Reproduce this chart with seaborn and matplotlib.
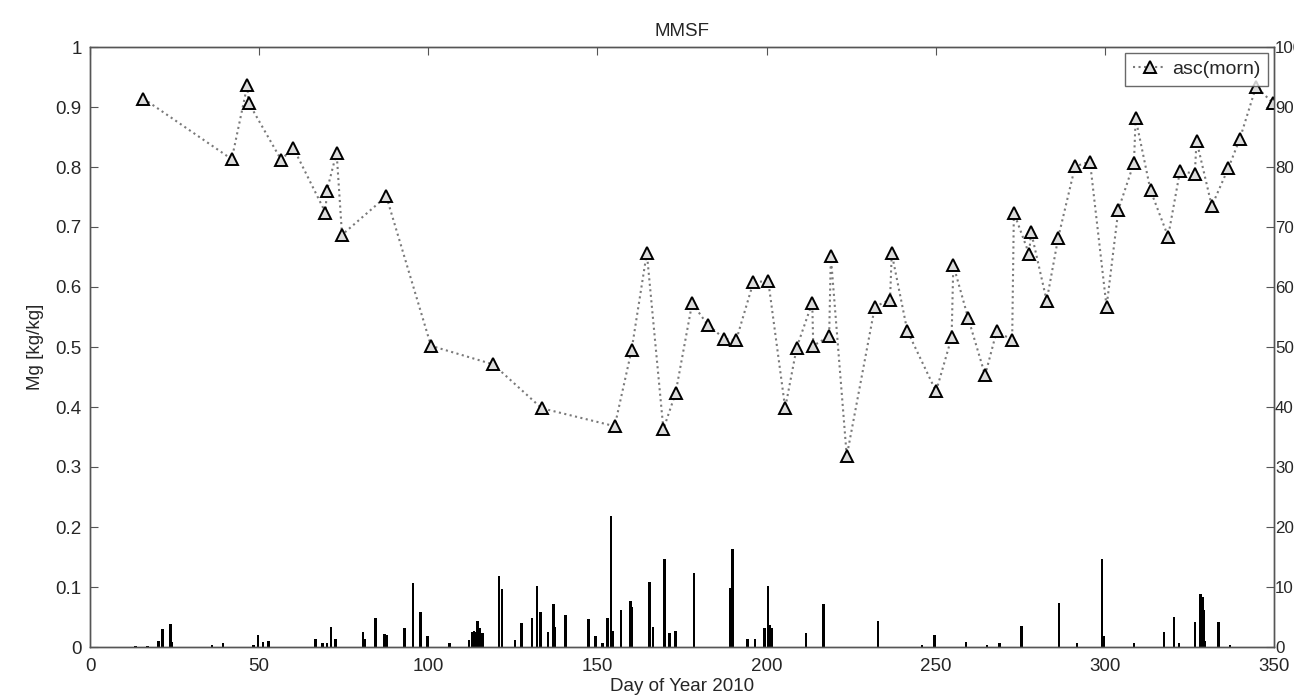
import matplotlib
matplotlib.use("Agg")
import matplotlib.pyplot as plt
import seaborn as sns
import pandas as pd
import numpy as np

# Mg ascending (morning) series
mg_day = [15.8, 41.9, 46.5, 46.9, 56.5, 60.1, 69.6, 70.0, 72.9, 74.5, 87.6, 100.8,
          119.2, 133.5, 155.1, 160.1, 164.6, 169.5, 173.1, 178.0, 182.6, 187.5, 191.0,
          196.1, 200.5, 205.5, 208.9, 213.5, 213.8, 218.5, 219.0, 223.7, 232.0, 236.5,
          237.0, 241.6, 250.1, 254.7, 255.2, 259.6, 264.6, 268.0, 272.6, 273.1, 277.6,
          278.2, 282.8, 286.2, 291.2, 295.6, 300.5, 304.0, 308.6, 309.1, 313.5, 318.7,
          322.2, 326.6, 327.1, 331.6, 336.5, 339.9, 344.7, 349.8]
mg_val = [0.914, 0.813, 0.936, 0.907, 0.812, 0.832, 0.724, 0.760, 0.824, 0.687, 0.751, 0.502,
          0.471, 0.398, 0.368, 0.495, 0.657, 0.363, 0.423, 0.573, 0.537, 0.514, 0.511,
          0.608, 0.610, 0.398, 0.499, 0.574, 0.502, 0.518, 0.651, 0.318, 0.567, 0.579,
          0.656, 0.527, 0.426, 0.516, 0.637, 0.548, 0.453, 0.526, 0.512, 0.724, 0.655,
          0.692, 0.577, 0.682, 0.801, 0.809, 0.567, 0.729, 0.807, 0.881, 0.761, 0.684,
          0.793, 0.789, 0.844, 0.735, 0.798, 0.847, 0.934, 0.906]

# Precipitation-like bars (right axis)
bar_day = [13.5, 17.0, 20.3, 21.3, 21.6, 23.8, 24.3, 36.0, 39.3, 48.4, 49.7, 51.1, 52.8,
           66.6, 68.7, 70.1, 71.3, 72.6, 80.7, 81.2, 84.4, 87.1, 87.6, 93.0, 95.5, 97.7,
           99.7, 106.2, 112.0, 113.0, 113.5, 114.0, 114.5, 115.2, 116.0, 120.9, 121.8,
           125.7, 127.5, 130.7, 132.1, 133.2, 135.4, 137.0, 137.4, 140.6, 147.4, 149.5,
           151.5, 153.0, 154.0, 154.5, 157.0, 159.8, 160.2, 165.4, 166.4, 169.9, 171.3,
           173.0, 178.5, 189.4, 190.0, 194.3, 196.6, 199.4, 200.4, 200.8, 201.4, 211.7,
           216.9, 233.0, 246.0, 249.7, 258.9, 265.2, 268.9, 275.3, 286.4, 291.8, 299.2,
           299.6, 308.6, 317.5, 320.4, 321.9, 326.7, 328.3, 328.9, 329.2, 329.6, 333.6, 337.0]
bar_val = [0.2, 0.2, 1.0, 3.0, 3.0, 3.9, 0.9, 0.3, 0.6, 0.3, 2.0, 0.8, 1.0,
           1.4, 0.6, 0.7, 3.3, 1.4, 2.5, 1.4, 4.9, 2.1, 2.0, 3.2, 10.7, 5.9,
           1.9, 0.6, 1.2, 2.5, 2.6, 2.5, 4.3, 3.2, 2.3, 11.9, 9.7,
           1.2, 4.0, 4.9, 10.2, 5.9, 2.5, 7.2, 3.4, 5.4, 4.7, 1.9,
           0.6, 4.9, 21.9, 2.7, 6.2, 7.7, 6.6, 10.9, 3.3, 14.6, 2.4,
           2.6, 12.4, 9.8, 16.4, 1.3, 1.4, 3.2, 10.1, 3.7, 3.2, 2.4,
           7.2, 4.3, 0.3, 2.0, 0.9, 0.4, 0.7, 3.5, 7.3, 0.7, 14.7,
           1.8, 0.6, 2.5, 5.0, 0.7, 4.2, 8.8, 8.4, 6.1, 1.0, 4.2, 0.3]

sns.set_style("white")
plt.rcParams['font.family'] = ['Liberation Sans', 'DejaVu Sans']

FS = 13.5

fig = plt.figure(figsize=(12.94, 7.0), dpi=100)
ax = fig.add_axes([90/1294, 1-647/700, (1274-90)/1294, 600/700])
ax2 = ax.twinx()

df_mg = pd.DataFrame({"day": mg_day, "Mg": mg_val})
df_bar = pd.DataFrame({"day": bar_day, "val": bar_val})

ax2.bar(df_bar["day"], df_bar["val"], width=0.75, color="black", linewidth=0)
ax2.set_ylim(0, 100)
ax2.set_yticks(np.arange(0, 101, 10))

ax.set_zorder(ax2.get_zorder() + 1)
ax.patch.set_visible(False)
sns.lineplot(data=df_mg, x="day", y="Mg", ax=ax, color="#7a7a7a", linestyle=":",
             linewidth=1.5, marker="^", markersize=9, markerfacecolor="#dcdcdc",
             markeredgecolor="black", markeredgewidth=1.4, label="asc(morn)", sort=False)

ax.set_xlim(0, 350)
ax.set_ylim(0, 1)
ax.set_xticks(np.arange(0, 351, 50))
ax.set_yticks(np.arange(0, 1.01, 0.1))
ax.set_yticklabels(["0", "0.1", "0.2", "0.3", "0.4", "0.5", "0.6", "0.7", "0.8", "0.9", "1"])
ax.set_xlabel("Day of Year 2010", fontsize=FS, labelpad=2)
ax.set_ylabel("Mg [kg/kg]", fontsize=FS, labelpad=8)
ax.set_title("MMSF", fontsize=FS, pad=8)

for a in (ax, ax2):
    for s in a.spines.values():
        s.set_color("#555555")
        s.set_linewidth(1.0)
ax.tick_params(axis="x", direction="in", length=6, width=0.8, color="#555555",
               labelsize=FS, top=True, pad=8)
ax.tick_params(axis="y", direction="in", length=6, width=0.8, color="#555555",
               labelsize=FS, right=False, pad=6)
ax2.tick_params(axis="y", direction="in", length=6, width=0.8, color="#555555",
                labelsize=12.2, pad=0.8)

leg = ax.legend(loc="upper right", fontsize=14, frameon=True, fancybox=False,
                borderpad=0.4, handlelength=1.7, handletextpad=0.3,
                borderaxespad=0.3)
leg.get_frame().set_edgecolor("#444444")
leg.get_frame().set_linewidth(1.0)

fig.savefig("out.png", dpi=100)
